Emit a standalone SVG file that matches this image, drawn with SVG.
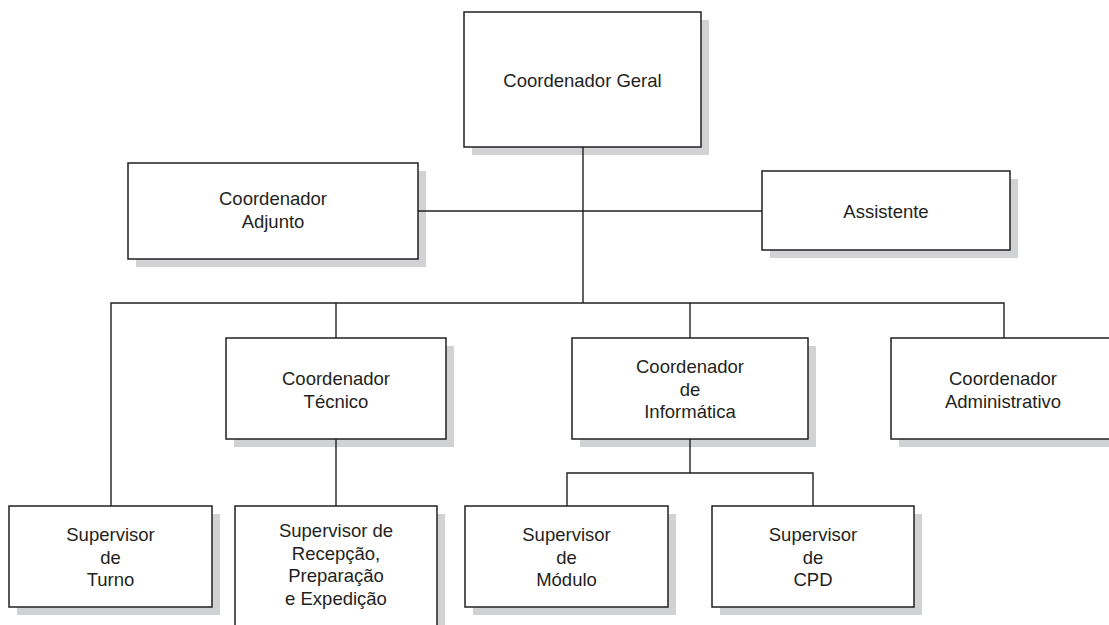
<svg xmlns="http://www.w3.org/2000/svg" width="1109" height="625" viewBox="0 0 1109 625">
<style>
.shadow{fill:#d1d2d4;stroke:none}
.box{fill:#ffffff;stroke:#231f20;stroke-width:1.5}
.lbl{font-family:"Liberation Sans",Arial,sans-serif;font-size:18.5px;fill:#231f20;text-anchor:middle}
.conn{stroke:#231f20;stroke-width:1.4;fill:none}
</style>
<rect width="1109" height="625" fill="#ffffff"/>
<g id="geral">
<rect class="shadow" x="472" y="20" width="237" height="135"/>
<rect class="box" x="464" y="12" width="237" height="135"/>
<text class="lbl" x="582.5" y="87">Coordenador Geral</text>
</g>
<g id="adjunto">
<rect class="shadow" x="136" y="171" width="290" height="96"/>
<rect class="box" x="128" y="163" width="290" height="96"/>
<text class="lbl" x="273" y="205">Coordenador</text>
<text class="lbl" x="273" y="227.5">Adjunto</text>
</g>
<g id="assistente">
<rect class="shadow" x="770" y="179" width="248" height="79"/>
<rect class="box" x="762" y="171" width="248" height="79"/>
<text class="lbl" x="886" y="217.5">Assistente</text>
</g>
<g id="tecnico">
<rect class="shadow" x="234" y="346" width="220" height="101"/>
<rect class="box" x="226" y="338" width="220" height="101"/>
<text class="lbl" x="336" y="385">Coordenador</text>
<text class="lbl" x="336" y="407.5">Técnico</text>
</g>
<g id="informatica">
<rect class="shadow" x="580" y="346" width="236" height="101"/>
<rect class="box" x="572" y="338" width="236" height="101"/>
<text class="lbl" x="690" y="373">Coordenador</text>
<text class="lbl" x="690" y="395.5">de</text>
<text class="lbl" x="690" y="418">Informática</text>
</g>
<g id="administrativo">
<rect class="shadow" x="899" y="346" width="224" height="101"/>
<rect class="box" x="891" y="338" width="224" height="101"/>
<text class="lbl" x="1003" y="385">Coordenador</text>
<text class="lbl" x="1003" y="407.5">Administrativo</text>
</g>
<g id="turno">
<rect class="shadow" x="17" y="514" width="203" height="101"/>
<rect class="box" x="9" y="506" width="203" height="101"/>
<text class="lbl" x="110.5" y="541">Supervisor</text>
<text class="lbl" x="110.5" y="563.5">de</text>
<text class="lbl" x="110.5" y="586">Turno</text>
</g>
<g id="recepcao">
<rect class="shadow" x="243" y="514" width="202" height="130"/>
<rect class="box" x="235" y="506" width="202" height="130"/>
<text class="lbl" x="336" y="537">Supervisor de</text>
<text class="lbl" x="336" y="559.5">Recepção,</text>
<text class="lbl" x="336" y="582">Preparação</text>
<text class="lbl" x="336" y="604.5">e Expedição</text>
</g>
<g id="modulo">
<rect class="shadow" x="473" y="514" width="203" height="101"/>
<rect class="box" x="465" y="506" width="203" height="101"/>
<text class="lbl" x="566.5" y="541">Supervisor</text>
<text class="lbl" x="566.5" y="563.5">de</text>
<text class="lbl" x="566.5" y="586">Módulo</text>
</g>
<g id="cpd">
<rect class="shadow" x="720" y="514" width="202" height="101"/>
<rect class="box" x="712" y="506" width="202" height="101"/>
<text class="lbl" x="813" y="541">Supervisor</text>
<text class="lbl" x="813" y="563.5">de</text>
<text class="lbl" x="813" y="586">CPD</text>
</g>
<g id="connectors">
<path class="conn" d="M583,147 V303"/>
<path class="conn" d="M418,211 H762"/>
<path class="conn" d="M111,506 V303 H1004 V338"/>
<path class="conn" d="M336,303 V338"/>
<path class="conn" d="M690,303 V338"/>
<path class="conn" d="M336,439 V506"/>
<path class="conn" d="M690,439 V473"/>
<path class="conn" d="M567,506 V473 H813 V506"/>
</g>
</svg>
